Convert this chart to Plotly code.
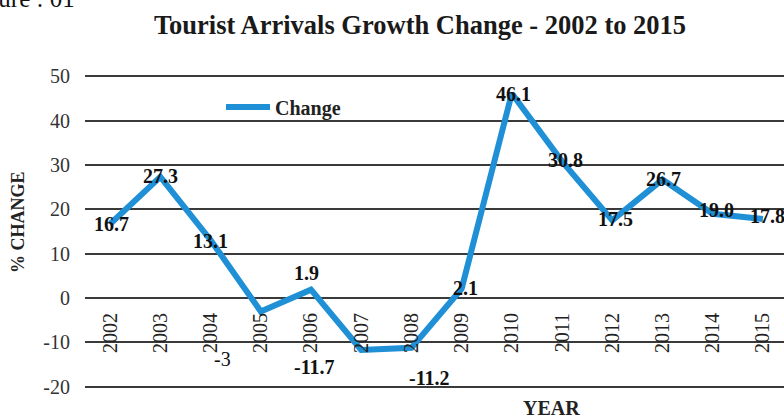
import plotly.graph_objects as go

# Year-on-year change in tourist arrivals (%)
years = ["2002", "2003", "2004", "2005", "2006", "2007", "2008",
         "2009", "2010", "2011", "2012", "2013", "2014", "2015"]
change = [16.7, 27.3, 13.1, -3, 1.9, -11.7, -11.2,
          2.1, 46.1, 30.8, 17.5, 26.7, 19.0, 17.8]

y_ticks = [-20, -10, 0, 10, 20, 30, 40, 50]
y_tick_text = [str(t) for t in y_ticks]  # plain hyphen for negatives

SERIF = "Liberation Serif, Times New Roman, serif"
LINE_BLUE = "#1f8fd6"

# pixel nudges (right, down) for the value labels
label_nudge = [(1, 1), (0, 0), (0, 2), (-38, 49), (-4, -16), (-47, 18), (18, 31),
               (4, 0), (2, 2), (3, 0), (3, 0), (1, 0), (4, -3), (5, -2)]
label_bold = [True, True, True, False, True, True, True,
              True, True, True, True, True, True, True]


def fmt(v):
    if v % 1 or v > 0:
        return f"{v:.1f}"
    return f"-{abs(v):.0f}" if v < 0 else f"{v:.0f}"


idx = list(range(len(years)))

fig = go.Figure()
fig.add_trace(go.Scatter(
    x=idx, y=change, mode="lines", name="Change",
    line=dict(color=LINE_BLUE, width=6),
))

W, H = 784, 419
M_L, M_R, M_T, M_B = 85, 0, 75, 31
Y_PAD = 0.25
y_lo, y_hi = y_ticks[0] - Y_PAD, y_ticks[-1] + Y_PAD
plot_w = W - M_L - M_R
plot_h = H - M_T - M_B


def px_to_paper_x(px):
    return (px - M_L) / plot_w


def px_to_paper_y(py):
    return (H - M_B - py) / plot_h


annotations = []
for i, v, (dx, dy), bold in zip(idx, change, label_nudge, label_bold):
    annotations.append(dict(
        x=i, y=v, xref="x", yref="y", text=fmt(v), showarrow=False,
        xanchor="center", yanchor="middle", xshift=dx, yshift=-(dy - 1),
        font=dict(family=SERIF, size=20, color="#111",
                  weight="bold" if bold else "normal"),
    ))

# axis titles
annotations.append(dict(
    x=px_to_paper_x(551), y=px_to_paper_y(408), xref="paper", yref="paper",
    text="YEAR", showarrow=False, xanchor="center", yanchor="middle",
    font=dict(family=SERIF, size=20, color="#222", weight="bold"),
))
annotations.append(dict(
    x=px_to_paper_x(18), y=px_to_paper_y(222), xref="paper", yref="paper",
    text="% CHANGE", showarrow=False, textangle=-90,
    xanchor="center", yanchor="middle",
    font=dict(family=SERIF, size=18, color="#222", weight="bold"),
))
# figure number, partly outside the page top
annotations.append(dict(
    x=px_to_paper_x(77), y=px_to_paper_y(-1), xref="paper", yref="paper",
    text="Figure : 01", showarrow=False, xanchor="right", yanchor="middle",
    font=dict(family=SERIF, size=25, color="#111"),
))

fig.update_layout(
    width=W, height=H, autosize=False,
    margin=dict(l=M_L, r=M_R, t=M_T, b=M_B, pad=0),
    paper_bgcolor="white", plot_bgcolor="white",
    title=dict(
        text="Tourist Arrivals Growth Change - 2002 to 2015",
        x=420 / W, xref="container", xanchor="center",
        y=1 - 25 / H, yref="container", yanchor="middle",
        font=dict(family=SERIF, size=26.5, color="#1a1a1a", weight="bold"),
    ),
    showlegend=True,
    legend=dict(
        x=px_to_paper_x(221), y=px_to_paper_y(107),
        xanchor="left", yanchor="middle", itemwidth=44,
        bgcolor="rgba(0,0,0,0)", borderwidth=0,
        font=dict(family=SERIF, size=20, color="#222", weight="bold"),
    ),
    xaxis=dict(
        range=[-0.5, 13.42], tickvals=idx, ticktext=years,
        showgrid=False, zeroline=False, showline=False, ticks="",
        anchor="free", position=(0 - y_lo) / (y_hi - y_lo),
        tickangle=-90, ticklabelstandoff=10,
        tickfont=dict(family=SERIF, size=20, color="#222"),
    ),
    yaxis=dict(
        range=[y_lo, y_hi], tickvals=y_ticks, ticktext=y_tick_text,
        showgrid=True, gridcolor="#3a3a3a", gridwidth=2,
        zeroline=False, showline=False, ticks="",
        ticklabelstandoff=14,
        tickfont=dict(family=SERIF, size=20, color="#333"),
    ),
    annotations=annotations,
)

fig.write_html("out.html")
